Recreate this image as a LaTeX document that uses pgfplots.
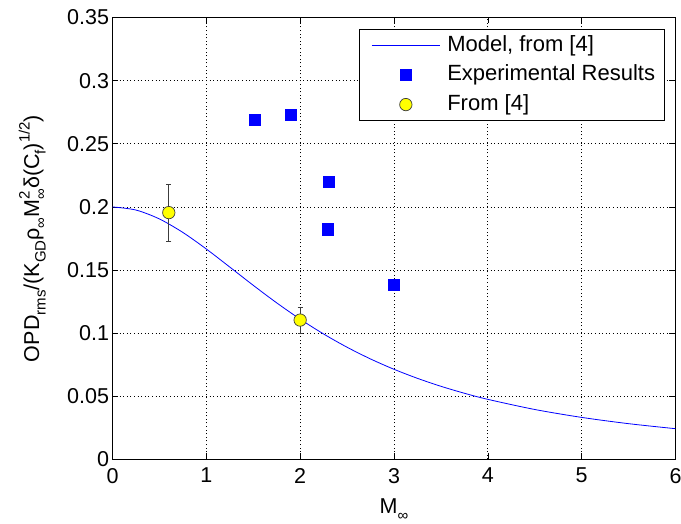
\documentclass[border=0pt]{standalone}
\usepackage{fontspec}
\setmainfont{Liberation Sans}
\usepackage{pgfplots}
\pgfplotsset{compat=1.18}
\definecolor{mblue}{RGB}{0,0,255}
\definecolor{myellow}{RGB}{255,255,0}
\definecolor{medge}{RGB}{60,60,60}
\newcommand{\fs}{\fontsize{21.5}{25}\selectfont}
\newcommand{\sbs}[1]{\raisebox{-6.5pt}{\fontsize{15}{15}\selectfont #1}}
\newcommand{\sps}[1]{\raisebox{9.5pt}{\fontsize{15}{15}\selectfont #1}}
\pgfplotsset{
  legline/.style={legend image code/.code={\path[draw=none,fill=none] (0pt,0pt) -- (74pt,0pt); \draw[##1] (6pt,0pt) -- (74pt,0pt);}},
  legmark/.style={legend image code/.code={\path[draw=none,fill=none] (0pt,0pt) -- (74pt,0pt); \draw[mark repeat=1,mark phase=1,##1] plot coordinates {(40pt,0pt)};}},
}
\begin{document}
\begin{tikzpicture}
\path[use as bounding box] (-112.5pt,-64pt) rectangle (568.5pt,459.5pt);
\begin{axis}[
  scale only axis, width=563pt, height=442pt,
  xmin=0, xmax=6, ymin=0, ymax=0.35,
  xtick={0,1,2,3,4,5,6},
  ytick={0,0.05,0.1,0.15,0.2,0.25,0.3,0.35},
  yticklabels={0,0.05,0.1,0.15,0.2,0.25,0.3,0.35},
  /pgf/number format/assume math mode=true,
  tick label style={font=\fs},
  xticklabel style={yshift=-5pt},
  tick align=inside,
  major tick length=6pt,
  tick style={black, line width=0.6pt},
  axis line style={black, line width=0.8pt},
  grid=major,
  major grid style={black, line width=0.7pt, dash pattern=on 1pt off 2.6pt},
  xlabel={M\sbs{∞}},
  ylabel={OPD\sbs{rms}/(K\sbs{GD}ρ\sbs{∞}M\rlap{\sps{2}}\sbs{∞}δ(C\sbs{f})\sps{1/2})},
  every axis x label/.style={at={(axis description cs:0.5,-0.1222)}, anchor=base, font=\fs},
  every axis y label/.style={at={(axis description cs:-0.1302,0.5)}, rotate=90, anchor=base, font=\fs},
  legend style={at={(axis description cs:0.9805,0.973)}, anchor=north east,
    draw=black, line width=0.8pt, font=\fontsize{22}{26}\selectfont,
    inner xsep=6pt, inner ysep=1pt, column sep=4pt,
    nodes={text height=17.5pt, text depth=6pt, inner sep=3pt}},
  legend cell align=left,
]
\addplot[mblue, line width=0.8pt, smooth, legline]
  coordinates {
  (0,0.2) (0.25,0.19753) (0.5,0.19048) (0.75,0.17978) (1,0.16667)
  (1.25,0.15238) (1.5,0.13793) (1.75,0.12403) (2,0.11111) (2.25,0.09938)
  (2.5,0.08889) (2.75,0.0796) (3,0.07143) (3.25,0.06426) (3.5,0.05797)
  (3.75,0.05246) (4,0.04762) (4.5,0.0396) (5,0.03333) (5.5,0.02837) (6,0.02439)
  };
\addlegendentry{Model, from [4]}
\addplot[only marks, mark=square*, mark size=5.6pt, mark options={fill=mblue, draw=mblue, line width=0pt}, legmark]
  coordinates {(1.52,0.269) (1.90,0.2726) (2.31,0.2195) (2.30,0.1822) (3.00,0.1384)};
\addlegendentry{Experimental Results}
\addplot[only marks, mark=*, mark size=6.2pt, mark options={fill=myellow, draw=medge, line width=0.7pt}, legmark,
  error bars/.cd, y dir=both, y explicit,
  error bar style={medge, line width=0.8pt},
  error mark options={medge, line width=0.8pt, mark size=2.5pt, rotate=90},
  ]
  coordinates {(0.6,0.1955) +- (0,0.0226) (2.0,0.1104) +- (0,0.0102)};
\addlegendentry{From [4]}
\end{axis}
\end{tikzpicture}
\end{document}
